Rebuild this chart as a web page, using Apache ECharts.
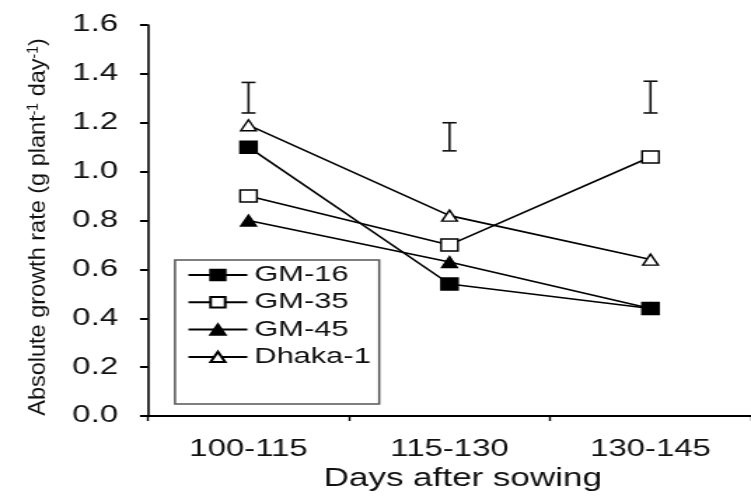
<!DOCTYPE html>
<html>
<head>
<meta charset="utf-8">
<script src="https://cdn.jsdelivr.net/npm/echarts@6/dist/echarts.min.js"></script>
<style>
  html, body { margin: 0; padding: 0; background: #fff; overflow: hidden; }
  #wrap { width: 751px; height: 497px; overflow: hidden; }
  #c { width: 536px; height: 497px; transform: scaleX(1.40112); transform-origin: 0 0; }
</style>
</head>
<body>
<div id="wrap"><div id="c"></div></div>
<script>
// ---- data ----
var categories = ['100-115', '115-130', '130-145'];
var gm16   = [1.10, 0.54, 0.44];
var gm35   = [0.90, 0.70, 1.06];
var gm45   = [0.80, 0.63, 0.44];
var dhaka1 = [1.19, 0.82, 0.64];
var errLow  = [1.24, 1.085, 1.24];
var errHigh = [1.365, 1.20, 1.37];
var seriesNames = ['GM-16', 'GM-35', 'GM-45', 'Dhaka-1'];
var yMin = 0, yMax = 1.6, yStep = 0.2;
var xTitle = 'Days after sowing';
var yTitle = 'Absolute growth rate (g plant{sup|-1} day{sup|-1})';

// ---- chart ----
var S = 1.40112; // horizontal stretch of the reference image
var FONT = '"Liberation Sans", Arial, Helvetica, sans-serif';
var chart = echarts.init(document.getElementById('c'), null, { renderer: 'canvas' });

var errData = categories.map(function (c, i) { return [i, errLow[i], errHigh[i]]; });

function lineSeries(name, data, symbol, filled, size, z) {
  return {
    name: name,
    type: 'line',
    data: data,
    symbol: symbol,
    symbolSize: size,
    showAllSymbol: true,
    z: z,
    lineStyle: { color: '#000', width: 1.6 },
    itemStyle: { color: filled ? '#000' : '#fff', borderColor: '#000', borderWidth: 1.4, opacity: 1 },
    emphasis: { disabled: true },
    animation: false
  };
}

var option = {
  backgroundColor: '#fff',
  animation: false,
  grid: { left: 105.63, top: 25, width: 460.35, height: 394, containLabel: false },
  legend: {
    orient: 'vertical',
    left: 124.9,
    top: 260,
    data: seriesNames,
    itemWidth: 42,
    itemHeight: 13,
    itemGap: 5.3,
    padding: [4, 6, 36, 8.6],
    borderColor: '#555',
    borderWidth: 1.5,
    backgroundColor: '#fff',
    selectedMode: false,
    textStyle: { fontFamily: FONT, fontSize: 22, lineHeight: 22, color: '#111' }
  },
  xAxis: {
    type: 'category',
    data: categories,
    boundaryGap: true,
    name: xTitle,
    nameLocation: 'middle',
    nameGap: 51,
    nameTextStyle: { fontFamily: FONT, fontSize: 25, color: '#111', padding: [0, 0, 0, 19] },
    axisLine: { lineStyle: { color: '#000', width: 2 } },
    axisTick: { show: true, alignWithLabel: false, length: 5, lineStyle: { color: '#000', width: 1.4 } },
    axisLabel: { fontFamily: FONT, fontSize: 23.5, color: '#111', margin: 22 },
    splitLine: { show: false }
  },
  yAxis: {
    type: 'value',
    min: yMin,
    max: yMax,
    interval: yStep,
    axisLine: { show: true, lineStyle: { color: '#000', width: 1.6 } },
    axisTick: { show: true, inside: false, length: 5.7, lineStyle: { color: '#000', width: 2 } },
    axisLabel: {
      fontFamily: FONT, fontSize: 23.5, color: '#111', margin: 21.4,
      formatter: function (v) { return v.toFixed(1); }
    },
    splitLine: { show: false }
  },
  graphic: [{
    type: 'text',
    x: 27.8,
    y: 227,
    rotation: Math.PI / 2,
    scaleX: 1,
    scaleY: 1 / S,
    silent: true,
    style: {
      text: yTitle,
      fontFamily: FONT,
      fontSize: 23.5,
      fill: '#111',
      align: 'center',
      verticalAlign: 'middle',
      rich: {
        sup: { fontFamily: FONT, fontSize: 14, fill: '#111', verticalAlign: 'top' }
      }
    }
  }],
  series: [
    lineSeries(seriesNames[0], gm16, 'rect', true, 12, 5),
    lineSeries(seriesNames[1], gm35, 'rect', false, 12, 3),
    lineSeries(seriesNames[2], gm45, 'triangle', true, 11, 3),
    lineSeries(seriesNames[3], dhaka1, 'triangle', false, 11, 3),
    {
      name: 'LSD',
      type: 'custom',
      data: errData,
      z: 4,
      silent: true,
      renderItem: function (params, api) {
        var xi = api.value(0);
        var lo = api.coord([xi, api.value(1)]);
        var hi = api.coord([xi, api.value(2)]);
        var hw = 5;
        var st = { stroke: '#111', lineWidth: 1.6 };
        return {
          type: 'group',
          children: [
            { type: 'line', shape: { x1: lo[0], y1: lo[1], x2: hi[0], y2: hi[1] }, style: st },
            { type: 'line', shape: { x1: lo[0] - hw, y1: lo[1], x2: lo[0] + hw, y2: lo[1] }, style: st },
            { type: 'line', shape: { x1: hi[0] - hw, y1: hi[1], x2: hi[0] + hw, y2: hi[1] }, style: st }
          ]
        };
      },
      encode: { x: 0, y: [1, 2] }
    }
  ]
};
chart.setOption(option);
</script>
</body>
</html>
